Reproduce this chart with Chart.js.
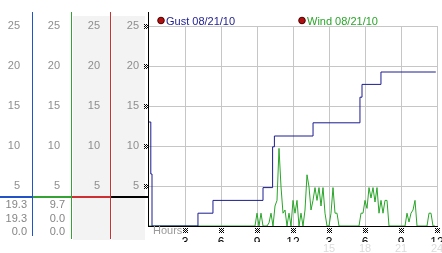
<!DOCTYPE html>
<html><head><meta charset="utf-8">
<script src="https://cdn.jsdelivr.net/npm/chart.js@4/dist/chart.umd.min.js"></script>
<style>html,body{margin:0;padding:0;background:#fff}canvas{display:block}</style>
</head><body>
<canvas id="c" width="442" height="253"></canvas>
<script>
// ---- data ----
const seriesNames = ['Gust 08/21/10', 'Wind 08/21/10'];
const gustHours  = [0, 0.15, 0.25, 4.08, 5.33, 9.5, 10.3, 10.45, 13.67, 17.58, 17.75, 19.33, 23.9];
const gustSpeeds = [13, 6.5, 0, 1.6, 3.2, 4.8, 9.9, 11.25, 12.9, 16.1, 17.7, 19.25, 19.25];
const windSampleHours = 1 / 6; // one sample every 10 minutes
const windSpeeds = [
  0,0,0,0,0,0,0,0,0,0, 0,0,0,0,0,0,0,0,0,0, 0,0,0,0,0,0,0,0,0,0,
  0,0,0,0,0,0,0,0,0,0, 0,0,0,0,0,0,0,0,0,0, 0,0,0,0,
  1.6,0,1.6,0,0,0,0.4,1.6,0,2.5,3.2,9.7,4.9,1.6,2.0,0,1.6,0,3.2,1.6,
  3.2,0,1.6,0,2.0,6.4,4.9,2.0,3.2,4.8,3.2,4.8,2.5,4.8,1.6,0,0,1.6,4.8,1.6,
  1.6,0,0,0,0,0,0,0,0,0,0,0,
  1.6,1.6,3.2,2.2,4.8,3.5,4.8,3.0,4.8,1.6,3.2,1.6,3.2,3.2,0,
  0,0,0,0,0,0,0,0,
  1.6,0.5,1.6,2.0,3.2,0,0,0,0,0,0,
  1.6,1.6,0,0
];
const xTickLabels   = ['', '3', '6', '9', '12', '3', '6', '9', '12'];
const xTick24Labels = ['', '', '', '', '', '15', '18', '21', '24'];
const readoutGust = ['19.3', '19.3', '0.0'];
const readoutWind = ['9.7', '0.0', '0.0'];

// ---- styles ----
const GUST = '#1c1c92', WIND = '#2aa52a';
const COLBLUE = '#2352c8', COLGREEN = '#34a234', COLRED = '#cc3030';
const FONT = 'Liberation Sans, Arial, sans-serif';

const gustPoints = gustHours.map((h, i) => ({x: h, y: gustSpeeds[i]}));
const windPoints = windSpeeds.map((v, i) => ({x: i * windSampleHours, y: v}));

function leftAxis(weight, width, pad, showGrid) {
  return {
    type: 'linear', position: 'left', weight, min: 0, max: 25,
    grid: {display: showGrid, drawTicks: false,
      color: c => (c.tick && c.tick.value === 0) ? 'rgba(0,0,0,0)' : '#c6c6c6'},
    border: {display: false},
    ticks: {stepSize: 5, padding: pad, color: '#8e8e8e', font: {family: FONT, size: 11},
      callback: v => v === 0 ? '' : String(v)},
    afterFit(s) { s.width = width; s.paddingTop = 0; s.paddingBottom = 0; }
  };
}

function mark(ctx, cx, cy) {
  for (let i = 0; i < 5; i++) for (let j = 0; j < 5; j++)
    if ((i + j) % 2 === 0) ctx.fillRect(Math.round(cx) - 2 + i, Math.round(cy) - 2 + j, 1, 1);
}

const decor = {
  id: 'decor',
  beforeDraw(chart) {
    const ctx = chart.ctx, s = chart.scales;
    ctx.save();
    ctx.fillStyle = '#fff';
    ctx.fillRect(0, 0, chart.width, chart.height);
    ctx.fillStyle = '#f3f3f3';
    ctx.fillRect(s.y1.left + 1, 16, s.y1.width - 1, 224);
    ctx.fillRect(s.y.left + 1, 16, s.y.width - 5, 224);
    ctx.restore();
  },
  afterDraw(chart) {
    const ctx = chart.ctx, s = chart.scales, a = chart.chartArea;
    ctx.save();
    const cols = [[s.y3, COLBLUE, 235], [s.y2, COLGREEN, 238], [s.y1, COLRED, 238], [s.y, '#000', a.bottom]];
    cols.forEach(([sc, col, bottom]) => {
      ctx.fillStyle = col;
      ctx.fillRect(Math.round(sc.right) - 1, 12, 1, bottom - 12 + 1);
    });
    const ry = a.bottom - 30;
    cols.forEach(([sc, col]) => {
      ctx.fillStyle = col;
      ctx.fillRect(Math.round(sc.left), ry, Math.round(sc.right) - Math.round(sc.left), 2);
    });
    ctx.fillStyle = '#858585';
    ctx.font = '11px ' + FONT;
    ctx.textAlign = 'right';
    ctx.textBaseline = 'middle';
    readoutGust.forEach((t, i) => ctx.fillText(t, 27, 205 + i * 13.7));
    readoutWind.forEach((t, i) => ctx.fillText(t, 65, 205 + i * 13.7));
    const leg = [[161, GUST, seriesNames[0]], [302, WIND, seriesNames[1]]];
    leg.forEach(([x, col, txt]) => {
      ctx.beginPath();
      ctx.arc(x, 20.5, 3.3, 0, Math.PI * 2);
      ctx.fillStyle = '#b01010';
      ctx.fill();
      ctx.strokeStyle = '#4a0000';
      ctx.lineWidth = 1;
      ctx.stroke();
      ctx.fillStyle = col;
      ctx.textAlign = 'left';
      ctx.textBaseline = 'alphabetic';
      ctx.font = '11px ' + FONT;
      ctx.fillText(txt, x + 5, 24.5);
    });
    ctx.fillStyle = '#9a9a9a';
    ctx.textBaseline = 'middle';
    ctx.fillText('Hours', 153, 231);
    ctx.fillStyle = '#000';
    for (let v = 5; v <= 25; v += 5) mark(ctx, a.left - 3, s.y.getPixelForValue(v));
    for (let h = 3; h <= 24; h += 3) mark(ctx, s.x.getPixelForValue(h), a.bottom + 4);
    ctx.restore();
  }
};

new Chart(document.getElementById('c'), {
  type: 'line',
  data: {
    datasets: [
      {label: seriesNames[0], data: gustPoints, borderColor: GUST, borderWidth: 1,
       pointRadius: 0, stepped: 'before', fill: false, xAxisID: 'x', yAxisID: 'y'},
      {label: seriesNames[1], data: windPoints, borderColor: WIND, borderWidth: 1,
       pointRadius: 0, tension: 0, fill: false, xAxisID: 'x', yAxisID: 'y'}
    ]
  },
  options: {
    responsive: false, animation: false, devicePixelRatio: 1,
    layout: {padding: {top: 26, right: 5, left: 0, bottom: 0}},
    plugins: {legend: {display: false}, tooltip: {enabled: false}},
    scales: {
      x: {
        type: 'linear', position: 'bottom', weight: 0, min: 0, max: 24,
        grid: {drawTicks: false, color: c => (c.tick && c.tick.value === 0) ? 'rgba(0,0,0,0)' : '#c6c6c6'},
        border: {display: true, color: '#000', width: 1},
        ticks: {stepSize: 3, autoSkip: false, maxRotation: 0, padding: 9, color: '#000',
          font: {family: FONT, size: 12}, callback: v => xTickLabels[Math.round(v / 3)] || ''},
        afterFit(s) { s.height = 16; s.paddingLeft = 0; s.paddingRight = 0; }
      },
      x2: {
        type: 'linear', position: 'bottom', weight: 1, min: 0, max: 24,
        grid: {display: false, drawTicks: false}, border: {display: false},
        ticks: {stepSize: 3, autoSkip: false, maxRotation: 0, padding: 0, color: '#dcdcdc',
          font: {family: FONT, size: 11}, callback: v => xTick24Labels[Math.round(v / 3)] || ''},
        afterFit(s) { s.height = 11; s.paddingLeft = 0; s.paddingRight = 0; }
      },
      y:  leftAxis(0, 38, 10, true),
      y1: leftAxis(1, 39, 11, false),
      y2: leftAxis(2, 39, 12, false),
      y3: leftAxis(3, 33, 13, false)
    }
  },
  plugins: [decor]
});
</script>
</body></html>
